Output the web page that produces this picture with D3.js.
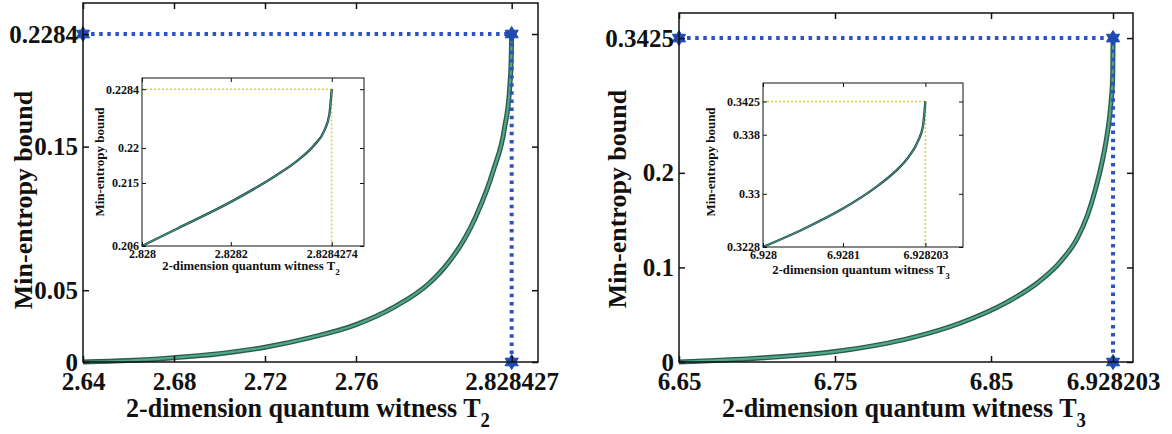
<!DOCTYPE html>
<html>
<head>
<meta charset="utf-8">
<script src="https://cdn.jsdelivr.net/npm/d3@7"></script>
<style>
  body { margin: 0; background: #fff; }
  svg { display: block; }
</style>
</head>
<body>
<svg id="chart" width="1172" height="434"></svg>
<script>
// main curves
const t2X = [2.64, 2.66, 2.68, 2.70, 2.72, 2.74, 2.76, 2.7765, 2.7923, 2.80, 2.8078, 2.8126, 2.8205, 2.8253, 2.8276, 2.8282, 2.828427];
const t2Y = [0, 0.001, 0.003, 0.0058, 0.0103, 0.017, 0.026, 0.038, 0.055, 0.068, 0.086, 0.101, 0.134, 0.163, 0.192, 0.210, 0.2284];
const t3X = [6.65, 6.70, 6.75, 6.80, 6.83, 6.86, 6.88, 6.895, 6.905, 6.912, 6.917, 6.921, 6.924, 6.926, 6.9272, 6.928, 6.928203];
const t3Y = [0, 0.004, 0.011, 0.026, 0.041, 0.063, 0.084, 0.107, 0.130, 0.156, 0.183, 0.210, 0.236, 0.259, 0.280, 0.303, 0.3425];

// inset curves
const t2InsetX = [2.828, 2.82808, 2.8282, 2.8283, 2.82835, 2.8283875, 2.8284114, 2.828422, 2.8284274];
const t2InsetY = [0.206, 0.2085, 0.2123, 0.2160, 0.2182, 0.2204, 0.2226, 0.2248, 0.2284];
const t3InsetX = [6.928, 6.92805, 6.9281, 6.92814, 6.928165, 6.928182, 6.928194, 6.9282, 6.928203];
const t3InsetY = [0.3228, 0.3252, 0.328, 0.3308, 0.333, 0.335, 0.3372, 0.3392, 0.3425];

// tick labels
const t2XTicks = [2.64, 2.68, 2.72, 2.76, 2.828427];
const t2YTicks = [0, 0.05, 0.15, 0.2284];
const t3XTicks = [6.65, 6.75, 6.85, 6.928203];
const t3YTicks = [0, 0.1, 0.2, 0.3425];
const t2InsetXTicks = [2.828, 2.8282, 2.8284274];
const t2InsetYTicks = [0.206, 0.215, 0.22, 0.2284];
const t3InsetXTicks = [6.928, 6.9281, 6.928203];
const t3InsetYTicks = [0.3228, 0.33, 0.338, 0.3425];

// bound markers (x max, y max)
const t2Bound = [2.828427, 0.2284];
const t3Bound = [6.928203, 0.3425];

const FONT = '"Liberation Serif", "Times New Roman", Times, "DejaVu Serif", serif';
const svg = d3.select("#chart");

// MATLAB-ish hexagram marker
const hexagram = {
    draw(ctx, size) {
        const r = Math.sqrt(size) * 0.62, ri = r * 0.58;
        for (let i = 0; i < 12; i++) {
            const a = i * Math.PI / 6 - Math.PI / 2, rr = i % 2 ? ri : r;
            i ? ctx.lineTo(rr * Math.cos(a), rr * Math.sin(a)) : ctx.moveTo(rr * Math.cos(a), rr * Math.sin(a));
        }
        ctx.closePath();
    }
};

const fmt = d => String(d);

const drawAxes = (g, x, y, xt, yt, o) => {
    // box
    g.append("rect").attr("x", o.x0).attr("y", o.y0)
        .attr("width", o.x1 - o.x0).attr("height", o.y1 - o.y0)
        .attr("fill", "none").attr("stroke", "#111").attr("stroke-width", o.bw);

    let ax = g.append("g").attr("transform", "translate(0," + o.y1 + ")")
        .call(d3.axisBottom(x).tickValues(xt).tickFormat(fmt).tickSize(-o.ts).tickPadding(o.xpad));
    let ay = g.append("g").attr("transform", "translate(" + o.x0 + ",0)")
        .call(d3.axisLeft(y).tickValues(yt).tickFormat(fmt).tickSize(-o.ts).tickPadding(o.ypad));
    g.append("g").attr("transform", "translate(0," + o.y0 + ")")
        .call(d3.axisTop(x).tickValues(xt).tickFormat("").tickSize(-o.ts));
    g.append("g").attr("transform", "translate(" + o.x1 + ",0)")
        .call(d3.axisRight(y).tickValues(yt).tickFormat("").tickSize(-o.ts));

    g.selectAll(".domain").remove();
    g.selectAll(".tick line").attr("stroke", "#111").attr("stroke-width", o.bw);
    ax.selectAll("text").style("font-size", o.fx + "px");
    ay.selectAll("text").style("font-size", o.fy + "px");
};

const drawTitles = (g, o, sub) => {
    // x title, a bit condensed like the scan
    let xt = g.append("text")
        .attr("transform", "translate(" + o.xtx + "," + o.xty + ") scale(" + o.squeeze + ",1)")
        .attr("text-anchor", "middle").style("font-size", o.xtf + "px");
    xt.append("tspan").text("2-dimension quantum witness T");
    xt.append("tspan").attr("dy", o.xtf * 0.36).style("font-size", (o.xtf * 0.72) + "px").text(sub);

    g.append("text")
        .attr("transform", "translate(" + o.ytx + "," + o.yty + ") rotate(-90)")
        .attr("text-anchor", "middle").style("font-size", o.ytf + "px")
        .text("Min-entropy bound");
};

const drawPanel = (cx, cy, xt, yt, bound, o, ins, ix, iy, ixt, iyt, sub) => {
    let g = svg.append("g");
    let x = d3.scaleLinear().domain(o.xd).range([o.x0, o.x1]);
    let y = d3.scaleLinear().domain(o.yd).range([o.y1, o.y0]);

    let pts = cx.map((v, i) => [v, cy[i]]);
    let line = d3.line().x(d => x(d[0])).y(d => y(d[1])).curve(d3.curveMonotoneX);

    g.append("path").attr("d", line(pts)).attr("fill", "none")
        .attr("stroke", "#2f5a50").attr("stroke-width", 5).attr("stroke-linejoin", "round");
    g.append("path").attr("d", line(pts)).attr("fill", "none")
        .attr("stroke", "#4ea88a").attr("stroke-width", 2.2).attr("stroke-linejoin", "round");

    // dotted bound lines
    let dots = [[o.xd[0], bound[1]], [bound[0], bound[1]], [bound[0], 0]];
    g.append("path").attr("d", d3.line().x(d => x(d[0])).y(d => y(d[1]))(dots))
        .attr("fill", "none").attr("stroke", "#2b53c4").attr("stroke-width", 4)
        .attr("stroke-dasharray", "3.5,4.6");
    g.selectAll(".star").data(dots).enter().append("path").attr("class", "star")
        .attr("transform", d => "translate(" + x(d[0]) + "," + y(d[1]) + ")")
        .attr("d", d3.symbol().type(hexagram).size(150))
        .attr("fill", "#1f4bb0").attr("stroke", "#1f4bb0").attr("stroke-width", 1);

    drawAxes(g, x, y, xt, yt, o);
    drawTitles(g, o, sub);

    // inset
    let gi = svg.append("g");
    let xi = d3.scaleLinear().domain(ins.xd).range([ins.x0, ins.x1]);
    let yi = d3.scaleLinear().domain(ins.yd).range([ins.y1, ins.y0]);
    gi.append("rect").attr("x", ins.x0).attr("y", ins.y0)
        .attr("width", ins.x1 - ins.x0).attr("height", ins.y1 - ins.y0).attr("fill", "#fff");

    let ib = [[ins.xd[0], bound[1]], [bound[0], bound[1]], [bound[0], ins.yd[0]]];
    gi.append("path").attr("d", d3.line().x(d => xi(d[0])).y(d => yi(d[1]))(ib))
        .attr("fill", "none").attr("stroke", "#d6d23a").attr("stroke-width", 1.6)
        .attr("stroke-dasharray", "2,2");

    let ipts = ix.map((v, i) => [v, iy[i]]);
    let iline = d3.line().x(d => xi(d[0])).y(d => yi(d[1])).curve(d3.curveMonotoneX);
    gi.append("path").attr("d", iline(ipts)).attr("fill", "none")
        .attr("stroke", "#24443f").attr("stroke-width", 2.4);
    gi.append("path").attr("d", iline(ipts)).attr("fill", "none")
        .attr("stroke", "#46a8a0").attr("stroke-width", 0.9);

    drawAxes(gi, xi, yi, ixt, iyt, ins);
    drawTitles(gi, ins, sub);
};

drawPanel(t2X, t2Y, t2XTicks, t2YTicks, t2Bound,
    { x0: 83, x1: 538, y0: 3, y1: 362, xd: [2.64, 2.84], yd: [0, 0.25], bw: 1.5, ts: 6,
      xpad: 10, ypad: 5, fx: 25, fy: 25, xtx: 308, xty: 417, xtf: 28, squeeze: 0.93,
      ytx: 32, yty: 200, ytf: 26 },
    { x0: 142, x1: 364, y0: 78, y1: 246, xd: [2.828, 2.8285], yd: [0.206, 0.23], bw: 1, ts: 4,
      xpad: 3, ypad: 3, fx: 12, fy: 12, xtx: 251, xty: 270, xtf: 12.7, squeeze: 1,
      ytx: 104, yty: 162, ytf: 13 },
    t2InsetX, t2InsetY, t2InsetXTicks, t2InsetYTicks, "2");

drawPanel(t3X, t3Y, t3XTicks, t3YTicks, t3Bound,
    { x0: 679, x1: 1133, y0: 13, y1: 362, xd: [6.65, 6.941], yd: [0, 0.369], bw: 1.5, ts: 6,
      xpad: 10, ypad: 5, fx: 25, fy: 25, xtx: 904, xty: 417, xtf: 28, squeeze: 0.93,
      ytx: 626, yty: 199, ytf: 26 },
    { x0: 763, x1: 963, y0: 83, y1: 247, xd: [6.928, 6.92825], yd: [0.3228, 0.345], bw: 1, ts: 4,
      xpad: 3, ypad: 3, fx: 12, fy: 12, xtx: 861, xty: 274, xtf: 12.7, squeeze: 1,
      ytx: 715, yty: 162, ytf: 13 },
    t3InsetX, t3InsetY, t3InsetXTicks, t3InsetYTicks, "3");

// serif bold everywhere, overriding d3's axis font attributes
svg.selectAll("text")
    .style("font-family", FONT).style("font-weight", "bold").attr("fill", "#111");
</script>
</body>
</html>
